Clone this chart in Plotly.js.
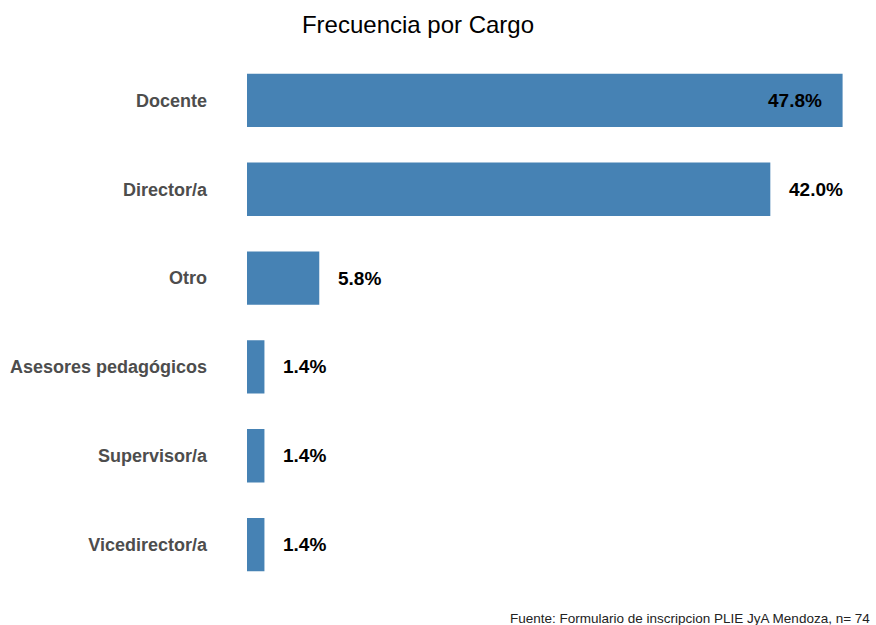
<!DOCTYPE html>
<html>
<head>
<meta charset="utf-8">
<script src="https://cdn.plot.ly/plotly-3.0.1.min.js"></script>
<style>html,body{margin:0;padding:0;background:#fff;}</style>
</head>
<body>
<div id="chart" style="width:876px;height:625px;"></div>
<script>
const categories = ["Docente", "Director/a", "Otro", "Asesores pedagógicos", "Supervisor/a", "Vicedirector/a"];
const values = [47.8, 42.0, 5.8, 1.4, 1.4, 1.4];
const valueLabels = ["47.8%", "42.0%", "5.8%", "1.4%", "1.4%", "1.4%"];
const insideLabel = [true, false, false, false, false, false];

const trace = {
  type: "bar",
  orientation: "h",
  x: values,
  y: categories,
  marker: {color: "#4682B4"},
  width: 0.6,
  hoverinfo: "skip"
};

const annotations = categories.map((c, i) => ({
  x: values[i], y: c, xref: "x", yref: "y",
  text: "<b>" + valueLabels[i] + "</b>",
  showarrow: false,
  xanchor: insideLabel[i] ? "right" : "left",
  xshift: insideLabel[i] ? -19 : 17,
  font: {family: "Liberation Sans, Arial, sans-serif", size: 19, color: "#000000"}
}));
annotations.push({
  x: (872 - 247) / 623, y: -(618 - 589) / 533, xref: "paper", yref: "paper",
  xanchor: "right", yanchor: "middle",
  text: "Fuente: Formulario de inscripcion PLIE JyA Mendoza, n= 74",
  showarrow: false,
  font: {family: "Liberation Sans, Arial, sans-serif", size: 13.5, color: "#222222"}
});

const layout = {
  width: 876, height: 625,
  paper_bgcolor: "#ffffff", plot_bgcolor: "#ffffff",
  margin: {l: 247, r: 6, t: 56, b: 36},
  title: {
    text: "Frecuencia por Cargo",
    x: 418/876, xref: "container", xanchor: "center",
    y: 1 - 25/625, yref: "container", yanchor: "middle",
    font: {family: "Liberation Sans, Arial, sans-serif", size: 24, color: "#000000"}
  },
  xaxis: {range: [0, 50], visible: false, showgrid: false, zeroline: false, fixedrange: true},
  yaxis: {
    type: "category",
    range: [5.5, -0.5],
    showgrid: false, zeroline: false, showline: false, ticks: "",
    ticklabelstandoff: 39,
    tickfont: {family: "Liberation Sans, Arial, sans-serif", size: 18, color: "#4d4d4d", weight: "bold"}
  },
  annotations: annotations,
  showlegend: false
};

Plotly.newPlot("chart", [trace], layout, {displayModeBar: false, staticPlot: true});
</script>
</body>
</html>
